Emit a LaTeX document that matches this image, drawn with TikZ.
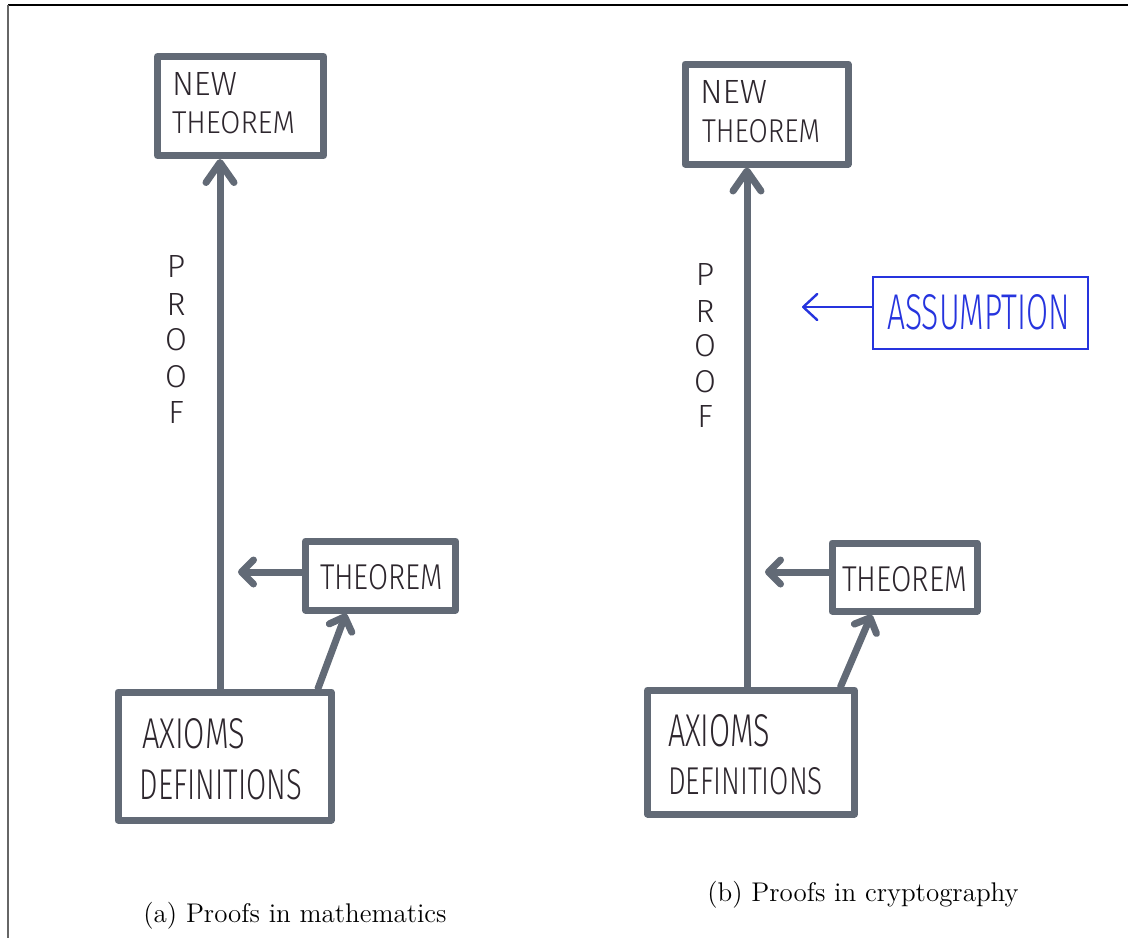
\documentclass[tikz,border=0pt]{standalone}
\usepackage{fontspec}
\usepackage{graphicx}
\usetikzlibrary{arrows.meta,calc}
\newfontfamily\hand{Fira Sans Light}
\definecolor{marker}{RGB}{98,106,118}
\definecolor{inkc}{RGB}{45,38,45}
\definecolor{pen}{RGB}{38,52,222}
\newlength\px
\setlength\px{0.5pt}
% hand lettering squeezed to a given width and cap height (in px)
\newcommand\hw[3]{\resizebox{#1\px}{#2\px}{\hand #3}}
\newcommand\hl[1]{\resizebox{!}{22\px}{\hand #1}}
\begin{document}
\begin{tikzpicture}[x=0.5pt,y=-0.5pt,
  mkbox/.style={draw=marker, line width=3.5pt, line join=round, rectangle, inner sep=0pt},
  mkline/.style={draw=marker, line width=3.5pt, line cap=round, line join=round},
  bigtip/.style={mkline, -{Straight Barb[round,length=10pt,width=14pt]}},
  smalltip/.style={mkline, -{Straight Barb[round,length=6pt,width=12pt]}},
  ink/.style={inner sep=0pt, text=inkc},
  bluebox/.style={draw=pen, line width=1.2pt, rectangle, inner sep=0pt},
  bluetip/.style={draw=pen, line width=1.2pt, line cap=round, -{Straight Barb[round,length=7pt,width=13pt]}},
  caption/.style={inner sep=0pt, font=\fontsize{13.5}{16}\selectfont, anchor=base west}
]
\useasboundingbox (0,0) rectangle (1128,938);

% page frame
\draw[black, line width=0.8pt] (8,5) -- (1128,5);
\draw[black!60, line width=1pt] (8,5) -- (8,938);

% ---------- (a) proofs in mathematics ----------
\node[mkbox, minimum width=83pt, minimum height=49.5pt] (nt1) at (240.5,106) {};
\node[mkbox, minimum width=75pt, minimum height=34.5pt] (th1) at (380.5,575.5) {};
\node[mkbox, minimum width=106.5pt, minimum height=64pt] (ax1) at (224.5,756) {};

\node[ink] (nt1a) at (204.5,83.5) {\hw{65}{23}{NEW}};
\node[ink] (nt1b) at (233.5,122.5) {\hw{123}{22}{THEOREM}};
\node[ink] (th1t) at (381.5,577.5) {\hw{123}{25}{THEOREM}};
\node[ink] (ax1a) at (193.5,734) {\hw{103}{30}{AXIOMS}};
\node[ink] (ax1b) at (221,785) {\hw{162}{30}{DEFINITIONS}};
\foreach \ch/\yy [count=\i] in {P/266,R/304,O/340,O/377,F/412}
  \node[ink] (pfa\i) at (176,\yy) {\hl{\ch}};

\coordinate (p1) at (220,400);
\coordinate (t1) at (238,572);
\draw[bigtip] (ax1.north -| p1) -- (nt1.south -| p1);
\draw[smalltip] (th1.west |- t1) -- (t1);
\draw[smalltip] ($(ax1.north west)!0.925!(ax1.north east)$) -- ($(th1.south west)!0.28!(th1.south east)$);

\node[caption] (capa) at (143,922) {(a) Proofs in mathematics};

% ---------- (b) proofs in cryptography ----------
\node[mkbox, minimum width=81.5pt, minimum height=50pt] (nt2) at (766.5,114) {};
\node[mkbox, minimum width=72.5pt, minimum height=34pt] (th2) at (904.5,577) {};
\node[mkbox, minimum width=103.25pt, minimum height=62pt] (ax2) at (751,752) {};
\node[bluebox, minimum width=107.5pt, minimum height=36pt] (asm) at (980.5,313) {};

\node[ink] (nt2a) at (733.5,91.5) {\hw{67}{23}{NEW}};
\node[ink] (nt2b) at (761,131.5) {\hw{118}{23}{THEOREM}};
\node[ink] (th2t) at (904.5,579.5) {\hw{125}{25}{THEOREM}};
\node[ink] (ax2a) at (719,731) {\hw{102}{32}{AXIOMS}};
\node[ink] (ax2b) at (745.5,781.5) {\hw{155}{27}{DEFINITIONS}};
\foreach \ch/\yy [count=\i] in {P/274,R/311,O/346,O/382,F/416}
  \node[ink] (pfb\i) at (705,\yy) {\hl{\ch}};
\node[inner sep=0pt, text=pen] (asmt) at (978.5,312.5) {\resizebox{183\px}{35\px}{\hand ASSUMPTION}};

\coordinate (p2) at (747,400);
\coordinate (t2) at (765,572);
\coordinate (a2) at (802,307);
\draw[bigtip] (ax2.north -| p2) -- (nt2.south -| p2);
\draw[smalltip] (th2.west |- t2) -- (t2);
\draw[smalltip] ($(ax2.north west)!0.92!(ax2.north east)$) -- ($(th2.south west)!0.283!(th2.south east)$);
\draw[bluetip] (asm.west |- a2) -- (a2);

\node[caption] (capb) at (707,901) {(b) Proofs in cryptography};
\end{tikzpicture}
\end{document}
